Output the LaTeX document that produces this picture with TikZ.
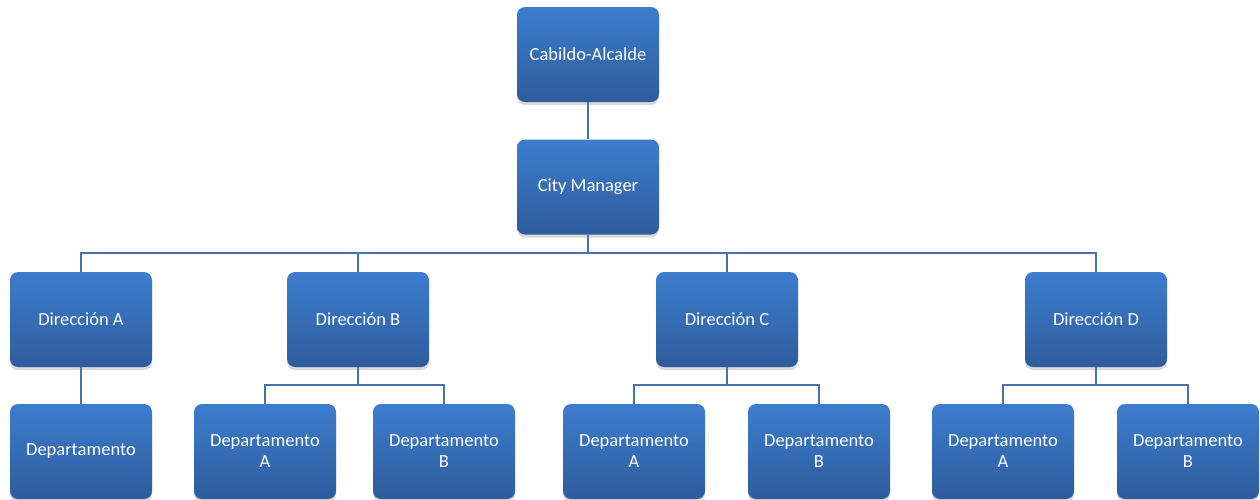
\documentclass[tikz,border=0pt]{standalone}
\usepackage{fontspec}
\setmainfont{Carlito}
\usetikzlibrary{shadows}
\definecolor{boxtop}{HTML}{3D7DCE}
\definecolor{boxbot}{HTML}{2D5C9C}
\definecolor{linec}{HTML}{4872AA}
\begin{document}
\begin{tikzpicture}[x=1pt,y=-1pt,
  orgbox/.style={rounded corners=8pt, minimum width=142pt, minimum height=95pt,
    top color=boxtop, bottom color=boxbot, draw=none, text=white,
    font=\fontsize{18.5}{21}\selectfont, align=center, inner sep=2pt,
    drop shadow={shadow xshift=0pt, shadow yshift=-3pt, opacity=0.25, fill=black!60}},
  conn/.style={draw=linec, line width=1.3pt}]
\useasboundingbox (0,0) rectangle (1260,499);
\node[orgbox] (cab) at (588,54.5) {Cabildo-Alcalde};
\node[orgbox] (cm) at (588,187) {City Manager};
\node[orgbox] (da) at (81,319.5) {Dirección A};
\node[orgbox] (db) at (358,319.5) {Dirección B};
\node[orgbox] (dc) at (727,319.5) {Dirección C};
\node[orgbox] (dd) at (1096,319.5) {Dirección D};
\node[orgbox] (pa) at (81,451.5) {Departamento};
\node[orgbox] (pba) at (265,451.5) {Departamento\\A};
\node[orgbox] (pbb) at (444,451.5) {Departamento\\B};
\node[orgbox] (pca) at (634,451.5) {Departamento\\A};
\node[orgbox] (pcb) at (819,451.5) {Departamento\\B};
\node[orgbox] (pda) at (1003,451.5) {Departamento\\A};
\node[orgbox] (pdb) at (1188,451.5) {Departamento\\B};
\coordinate (hy) at (0,253);
\coordinate (hb) at (0,385);
\draw[conn] (cab.south) -- (cm.north);
\draw[conn] (cm.south) -- (cm.south |- hy);
\draw[conn] (da.north) -- (da.north |- hy) -- (dd.north |- hy) -- (dd.north);
\draw[conn] (db.north) -- (db.north |- hy);
\draw[conn] (dc.north) -- (dc.north |- hy);
\draw[conn] (da.south) -- (pa.north);
\draw[conn] (db.south) -- (db.south |- hb);
\draw[conn] (pba.north) -- (pba.north |- hb) -- (pbb.north |- hb) -- (pbb.north);
\draw[conn] (dc.south) -- (dc.south |- hb);
\draw[conn] (pca.north) -- (pca.north |- hb) -- (pcb.north |- hb) -- (pcb.north);
\draw[conn] (dd.south) -- (dd.south |- hb);
\draw[conn] (pda.north) -- (pda.north |- hb) -- (pdb.north |- hb) -- (pdb.north);
\end{tikzpicture}
\end{document}
